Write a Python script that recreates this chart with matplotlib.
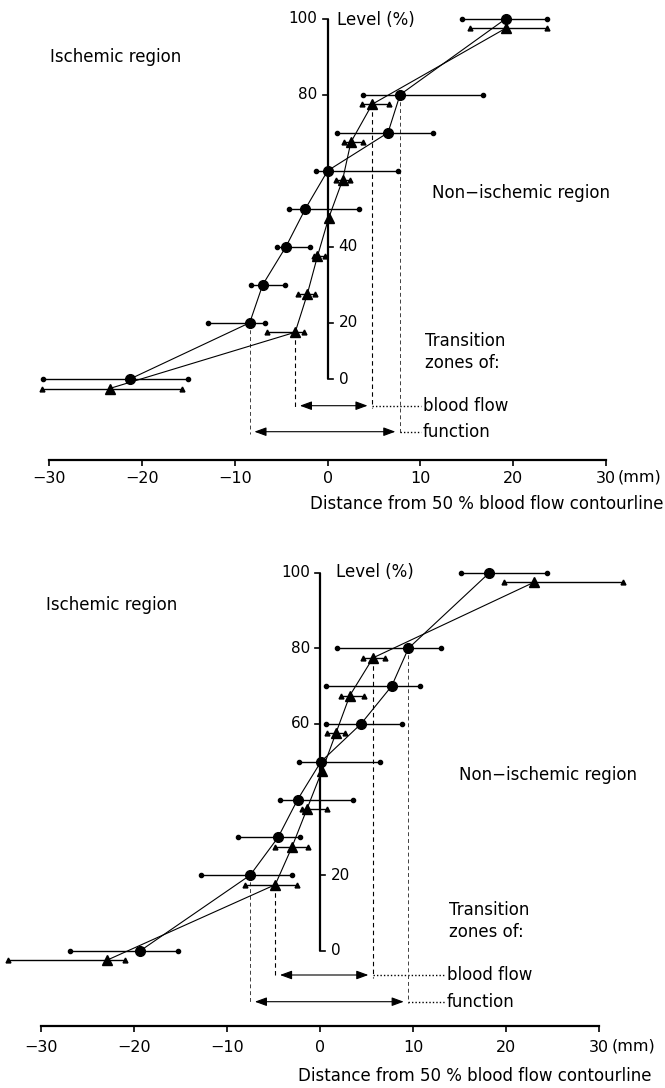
import numpy as np
import matplotlib
matplotlib.use('Agg')
import matplotlib.pyplot as plt
from matplotlib import transforms

W, H = 665, 1088
plt.rcParams['font.family'] = 'DejaVu Sans'
plt.rcParams['font.size'] = 12

levels = [100, 80, 70, 60, 50, 40, 30, 20, 0]

# upper panel, distances in mm (circles = function, triangles = blood flow)
top_circ = [19.2, 7.8, 6.5, 0.0, -2.4, -4.5, -7.0, -8.4, -21.3]
top_circ_lo = [14.5, 3.8, 1.0, -1.3, -4.2, -5.5, -8.3, -12.9, -30.7]
top_circ_hi = [23.6, 16.7, 11.3, 7.6, 3.4, -1.9, -4.6, -6.8, -15.1]
top_tri = [19.2, 4.8, 2.5, 1.6, 0.1, -1.1, -2.2, -3.5, -23.5]
top_tri_lo = [15.3, 3.7, 1.8, 0.9, 0.1, -1.5, -3.2, -6.5, -30.8]
top_tri_hi = [23.6, 6.6, 3.8, 2.4, 0.1, -0.3, -1.4, -2.6, -15.7]

# lower panel
bot_circ = [18.2, 9.5, 7.7, 4.4, 0.1, -2.4, -4.5, -7.5, -19.3]
bot_circ_lo = [15.2, 1.8, 0.7, 0.6, -2.2, -4.3, -8.8, -12.8, -26.8]
bot_circ_hi = [24.4, 13.0, 10.7, 8.8, 6.4, 3.5, -2.1, -3.0, -15.3]
bot_tri = [23.0, 5.7, 3.2, 1.7, 0.2, -1.4, -3.0, -4.8, -22.9]
bot_tri_lo = [19.8, 4.6, 2.3, 0.8, 0.2, -1.9, -4.8, -8.0, -33.5]
bot_tri_hi = [32.6, 7.0, 4.7, 2.7, 0.2, 0.8, -1.3, -2.5, -20.9]

xticks = [-30, -20, -10, 0, 10, 20, 30]
xticklabels = ['\u221230', '\u221220', '\u221210', '0', '10', '20', '30']

fig = plt.figure(figsize=(W / 100, H / 100), dpi=100)


def ftext(xp, yp, s, **kw):
    fig.text(xp / W, 1 - yp / H, s, **kw)


def to_data(ax, xp, yp):
    return ax.transData.inverted().transform((xp, H - yp))


def panel(rect, xlim, ylim, k, circ, clo, chi, tri, tlo, thi,
          left_ticks, right_ticks, lay):
    ax = fig.add_axes(rect)

    def fwd(y):
        y = np.asarray(y, float)
        return np.where(y >= 20, y, 20 - (20 - y) * k)

    def inv(y):
        y = np.asarray(y, float)
        return np.where(y >= 20, y, 20 - (20 - y) / k)

    ax.set_yscale('function', functions=(fwd, inv))
    ax.set_xlim(*xlim)
    ax.set_ylim(*ylim)
    ax.patch.set_alpha(0)
    for s in ['top', 'right', 'left']:
        ax.spines[s].set_visible(False)
    ax.spines['bottom'].set_bounds(-30, 30)
    ax.spines['bottom'].set_linewidth(1.6)
    ax.set_yticks([])
    ax.yaxis.set_minor_locator(plt.NullLocator())
    ax.set_xticks(xticks)
    ax.set_xticklabels(xticklabels)
    ax.tick_params(axis='x', direction='out', length=4, width=1.2, pad=lay['pad'],
                   labelsize=11.5)

    tri_tr = transforms.offset_copy(ax.transData, fig=fig, x=0, y=-9.5, units='dots')

    # level axis
    ax.plot([0, 0], [0, 100], color='k', lw=1.6, solid_capstyle='butt')
    for lv in left_ticks:
        ax.plot([-0.55, 0], [lv, lv], color='k', lw=1.2)
        ax.annotate(str(lv), (0, lv), xytext=(-10, 0), textcoords='offset pixels',
                    ha='right', va='center', fontsize=11)
    for lv in right_ticks:
        ax.plot([0, 0.55], [lv, lv], color='k', lw=1.2)
        ax.annotate(str(lv), (0, lv), xytext=(11, 0), textcoords='offset pixels',
                    ha='left', va='center', fontsize=11)

    # circles
    ax.plot(circ, levels, color='k', lw=0.8, zorder=3)
    ax.hlines(levels, clo, chi, color='k', lw=1.0, zorder=3)
    ax.plot(clo, levels, 'o', color='k', ms=3, zorder=4)
    ax.plot(chi, levels, 'o', color='k', ms=3, zorder=4)
    ax.plot(circ, levels, 'o', color='k', ms=7, zorder=5)

    # triangles
    ax.plot(tri, levels, color='k', lw=0.8, zorder=3, transform=tri_tr)
    ax.hlines(levels, tlo, thi, color='k', lw=1.0, zorder=3, transform=tri_tr)
    ax.plot(tlo, levels, '^', color='k', ms=3.5, zorder=4, transform=tri_tr)
    ax.plot(thi, levels, '^', color='k', ms=3.5, zorder=4, transform=tri_tr)
    ax.plot(tri, levels, '^', color='k', ms=7.5, zorder=5, transform=tri_tr)

    i20, i80 = levels.index(20), levels.index(80)
    inset = 0.5
    arrow = dict(arrowstyle='<|-|>, head_length=0.6, head_width=0.22',
                 color='k', lw=0.8, shrinkA=0, shrinkB=0, mutation_scale=12)

    # blood flow zone (triangles)
    x0b, x1b = tri[i20], tri[i80]
    yb_end = to_data(ax, 0, lay['bf_end'] - 9.5)[1]
    for xv, lv in [(x0b, 20), (x1b, 80)]:
        ax.plot([xv, xv], [lv, yb_end], color='k', lw=0.8, ls=(0, (4, 3)),
                transform=tri_tr, zorder=2)
    yb = to_data(ax, 0, lay['bf_y'])[1]
    ax.annotate('', xy=(x1b - inset, yb), xytext=(x0b + inset, yb), arrowprops=arrow)
    xt = to_data(ax, lay['txt_x'] - 2, 0)[0]
    ax.plot([x1b, xt], [yb, yb], color='k', lw=1.0, ls=(0, (1, 1.5)))

    # function zone (circles)
    x0f, x1f = circ[i20], circ[i80]
    yf_end = to_data(ax, 0, lay['fn_end'])[1]
    for xv, lv in [(x0f, 20), (x1f, 80)]:
        ax.plot([xv, xv], [lv, yf_end], color='0.25', lw=0.7, ls=(0, (4, 3)), zorder=2)
    yf = to_data(ax, 0, lay['fn_y'])[1]
    ax.annotate('', xy=(x1f - inset, yf), xytext=(x0f + inset, yf), arrowprops=arrow)
    ax.plot([x1f, xt], [yf, yf], color='k', lw=1.0, ls=(0, (1, 1.5)))

    ftext(lay['txt_x'], lay['bf_y'], 'blood flow', ha='left', va='center')
    ftext(lay['txt_x'], lay['fn_y'], 'function', ha='left', va='center')
    ftext(lay['tr_x'], lay['tr_y'], 'Transition\nzones of:', ha='left', va='center',
          linespacing=1.25)
    ftext(lay['isc'][0], lay['isc'][1], 'Ischemic region', ha='left', va='center')
    ftext(lay['non'][0], lay['non'][1], 'Non\u2212ischemic region', ha='left', va='center')
    ftext(lay['lvl'][0], lay['lvl'][1], 'Level (%)', ha='left', va='center')
    ftext(lay['mm'][0], lay['mm'][1], '(mm)', ha='left', va='center', fontsize=11.5)
    ftext(lay['dist'][0], lay['dist'][1], 'Distance from 50 % blood flow contourline',
          ha='right', va='center')
    return ax


panel([0, 1 - 460 / H, 1, 460 / H], (-35.31, 36.35), (-28.8, 104.92), 0.74,
      top_circ, top_circ_lo, top_circ_hi, top_tri, top_tri_lo, top_tri_hi,
      [100, 80], [40, 20, 0],
      dict(bf_y=405.7, bf_end=408, fn_y=431.7, fn_end=434, txt_x=423,
           tr_x=425, tr_y=352, isc=(50, 57), non=(432, 193), lvl=(337, 20),
           mm=(618, 477), dist=(663, 504), pad=4))

panel([0, 1 - 1026 / H, 1, (1026 - 530) / H], (-34.37, 37.06), (-19.9, 111.3), 1.0,
      bot_circ, bot_circ_lo, bot_circ_hi, bot_tri, bot_tri_lo, bot_tri_hi,
      [100, 80, 60], [20, 0],
      dict(bf_y=975, bf_end=978, fn_y=1001.7, fn_end=1003, txt_x=447,
           tr_x=449, tr_y=921, isc=(46, 605), non=(459, 775), lvl=(336, 572),
           mm=(612, 1046), dist=(652, 1076), pad=6))

fig.savefig('out.png', dpi=100)
